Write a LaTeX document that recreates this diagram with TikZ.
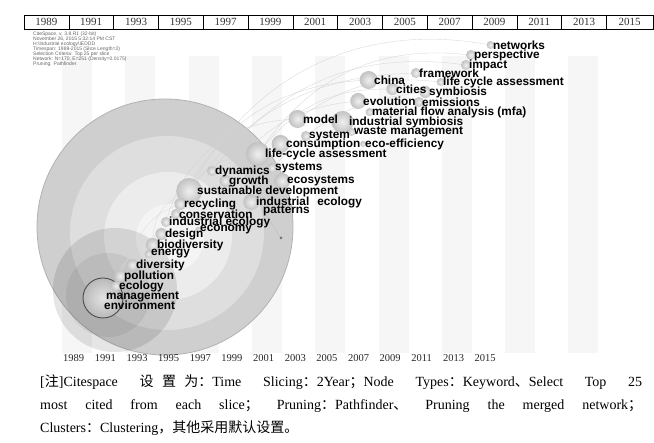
\documentclass[tikz,border=0pt]{standalone}
\usepackage{fontspec}
\setmainfont{Liberation Serif}
\newfontfamily\cjk{Noto Sans CJK SC}
\newfontfamily\kwfont{Liberation Sans}
\usetikzlibrary{positioning}
\pgfdeclarelayer{back}
\pgfdeclarelayer{links}
\pgfdeclarelayer{mid}
\pgfsetlayers{back,links,mid,main}
\tikzset{
	kw/.style={anchor=west, inner sep=0pt, text=black, font=\kwfont\bfseries\fontsize{11.8}{12}\selectfont},
	ball/.style={circle, inner sep=0pt, minimum size={2*#1pt}, inner color=gray!12, outer color=gray!48},
	link/.style={gray!35, line width=0.3pt},
	cell/.style={draw, minimum width=44.8pt, minimum height=14pt, inner sep=0pt, text=black!80, font=\fontsize{11}{11}\selectfont},
	info/.style={anchor=west, inner sep=0pt, text=black!60, font=\kwfont\fontsize{5}{5}\selectfont},
	axis/.style={anchor=west, inner sep=0pt, text=black!85, font=\fontsize{10.5}{10.5}\selectfont},
	stripe/.style={fill=gray!7},
	note/.style={anchor=north west, inner sep=0pt, text width=602pt, align=justify, font=\fontsize{14}{23}\selectfont}
}
% keyword: name, x, y, radius, text
\newcommand{\kwd}[5]{%
	\node[kw] (#1) at (#2,#3) {#5};
	\begin{pgfonlayer}{mid}
		\node[ball=#4] (b#1) at ([xshift={-0.6*#4}] #1.west) {};
	\end{pgfonlayer}
}
\newcommand{\gl}{\hskip 0pt plus 0.8pt\relax}
\begin{document}
\begin{tikzpicture}[x=1pt,y=-1pt]
	\useasboundingbox (0,0) rectangle (654,443);
	
	% header row
	\foreach \yy [count=\i from 0] in {1989,1991,...,2013}
		\node[cell] (h\yy) at ({46.4+44.8*\i},22) {\yy};
	\node[cell, minimum width=46.6pt] (h2015) at (629.7,22) {2015};
	
	\node[info] (i1) at (33,34) {CiteSpace, v. 3.8.R1 (32-bit)};
	\node[info] (i2) at (33,39) {November 26, 2015 5:32:14 PM CST};
	\node[info] (i3) at (33,44) {H:\textbackslash industrial ecology\textbackslash IEDDD};
	\node[info] (i4) at (33,49) {Timespan: 1989-2015 (Slice Length=2)};
	\node[info] (i5) at (33,54) {Selection Criteria: Top 25 per slice};
	\node[info] (i6) at (33,59) {Network: N=170, E=251 (Density=0.0175)};
	\node[info] (i7) at (33,64) {Pruning: Pathfinder};
	
	\begin{pgfonlayer}{back}
		\foreach \k in {0,...,8}
			\fill[stripe] ({62+63.3*\k},56) rectangle ++(30,297);
		% rings
		\draw[gray!60, line width=0.8pt, fill=gray!38] (165,227) circle (128);
		\fill[gray!26] (167,233) circle (97);
		\fill[gray!15] (168,236) circle (64);
		\fill[gray!9] (170,238) circle (34);
		\fill[black, opacity=0.1] (115,290) circle (62);
		\fill[black, opacity=0.06] (108,295) circle (42);
		\draw[black!70, line width=0.9pt, inner color=gray!22, outer color=gray!55] (103,298) circle (20);
	\end{pgfonlayer}
	
	\kwd{net}{493}{45}{4}{networks}
	\kwd{per}{474}{55}{5}{perspective}
	\kwd{imp}{469}{65}{5}{impact}
	\kwd{fra}{419}{73}{5}{framework}
	\kwd{chi}{374}{80}{9}{china}
	\kwd{lcaa}{443}{82}{4}{life cycle assessment}
	\kwd{cit}{396}{89}{6}{cities}
	\kwd{sym}{429}{92}{6}{symbiosis}
	\kwd{evo}{363}{101}{8}{evolution}
	\kwd{emi}{422}{102}{5}{emissions}
	\kwd{mfa}{372}{112}{4}{material flow analysis (mfa)}
	\kwd{mod}{303}{119}{9}{model}
	\kwd{isy}{349}{122}{11}{industrial symbiosis}
	\kwd{was}{354}{132}{4}{waste management}
	\kwd{sys}{309}{136}{5}{system}
	\kwd{con}{286}{144}{9}{consumption}
	\kwd{eco}{365}{144}{3}{eco-efficiency}
	\kwd{lca}{265}{154}{12}{life-cycle assessment}
	\kwd{dyn}{215}{171}{5}{dynamics}
	\kwd{sts}{275}{168}{5}{systems}
	\kwd{gro}{229}{181}{6}{growth}
	\kwd{esy}{287}{181}{8}{ecosystems}
	\kwd{sud}{197}{191}{13}{sustainable development}
	\kwd{rec}{184}{204}{6}{recycling}
	\kwd{ind}{256}{202}{8}{industrial\hspace{8pt}ecology}
	\kwd{pat}{263}{211}{0}{patterns}
	\kwd{cns}{179}{214}{5}{conservation}
	\kwd{iec}{169}{222}{5}{industrial ecology}
	\kwd{ecn}{200}{230}{3}{economy}
	\kwd{des}{165}{234}{6}{design}
	\kwd{bio}{157}{245}{7}{biodiversity}
	\kwd{ene}{151}{254}{4}{energy}
	\kwd{div}{136}{265}{6}{diversity}
	\kwd{pol}{124}{276}{6}{pollution}
	\kwd{ecg}{119}{286}{5}{ecology}
	\kwd{man}{106}{297}{0}{management}
	\kwd{env}{104}{305}{0}{environment}
	
	\node[circle, fill=black!55, inner sep=0pt, minimum size=3pt] (dt) at (281,238) {};
	
	\begin{pgfonlayer}{links}
		\draw[link] (bsud) to[bend left=35] (bnet);
		\draw[link] (blca) to[bend left=30] (bper);
		\draw[link] (bdyn) to[bend left=30] (bimp);
		\draw[link] (bsud) to[bend left=25] (bfra);
		\draw[link] (brec) to[bend left=30] (bchi);
		\draw[link] (blca) to[bend left=25] (bcit);
		\draw[link] (biec) to[bend left=35] (bmod);
		\draw[link] (bcns) to[bend left=30] (blca);
		\draw[link] (bgro) to[bend left=25] (bevo);
		\draw[link] (bsts) to[bend left=20] (bsym);
		\draw[link] (bmod) to[bend left=20] (blcaa);
		\draw[link, white!70!gray] (bbio) to[bend left=30] (bsud);
		\draw[link, white!70!gray] (bdiv) to[bend left=30] (brec);
		\draw[link, white!70!gray] (bpol) to[bend left=25] (bdes);
		\draw[link, white!70!gray] (becg) to[bend left=40] (bene);
		\draw[link, gray!50] (dt) -- (pat.west);
	\end{pgfonlayer}
	
	% time axis
	\foreach \yy [count=\k from 0] in {1989,1991,...,2015}
		\node[axis] (a\yy) at ({63+31.65*\k},358) {\yy};
	
	\node[note] (cap) at (40,374) {[{\cjk 注}]Citespace {\cjk 设\gl 置\gl 为：}Time Slicing{\cjk ：}2Year{\cjk ；}Node Types{\cjk ：}Keyword{\cjk 、}Select Top 25\linebreak most cited from each slice{\cjk ；} Pruning{\cjk ：}Pathfinder{\cjk 、} Pruning the merged network{\cjk ；}\linebreak Clusters{\cjk ：}Clustering{\cjk ，其他采用默认设置。}};
\end{tikzpicture}
\end{document}
